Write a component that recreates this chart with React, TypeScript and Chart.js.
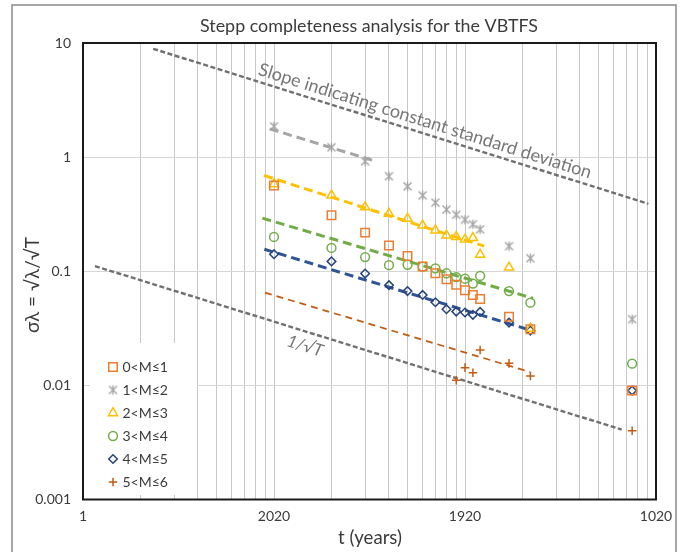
import React, { useEffect, useRef } from 'react';
import { Chart, registerables } from 'chart.js';
import { drawPoint } from 'chart.js/helpers';

Chart.register(...registerables);

const FONT = 'Lato, "Open Sans", sans-serif';

// Lengths T (years) of the completeness intervals
const T_YEARS = [10, 20, 30, 40, 50, 60, 70, 80, 90, 100, 110, 120, 170, 220, 750];

// σλ per magnitude class (null where the class has no estimate)
const SIGMA_M0_1 = [0.565, 0.309, 0.218, 0.168, 0.136, 0.110, 0.096, 0.085, 0.076, 0.068, 0.062, 0.057, 0.040, 0.031, 0.009];
const SIGMA_M1_2 = [1.86, 1.22, 0.92, 0.68, 0.554, 0.462, 0.399, 0.347, 0.313, 0.283, 0.258, 0.233, 0.166, 0.130, 0.038];
const SIGMA_M2_3 = [0.58, 0.462, 0.365, 0.32, 0.289, 0.252, 0.228, 0.206, 0.200, 0.190, 0.196, 0.140, 0.108, 0.0315, null];
const SIGMA_M3_4 = [0.200, 0.160, 0.133, 0.113, 0.114, 0.110, 0.106, 0.096, 0.089, 0.086, 0.078, 0.091, 0.067, 0.053, 0.0155];
const SIGMA_M4_5 = [0.141, 0.122, 0.0955, 0.0755, 0.067, 0.062, 0.0535, 0.0465, 0.0443, 0.0435, 0.0415, 0.044, 0.0355, 0.0302, 0.009];
const SIGMA_M5_6 = [null, null, null, null, null, null, null, null, 0.0111, 0.0143, 0.0129, 0.0204, 0.0156, 0.0121, 0.004];

const CLASS_LABELS = ['0<M≤1', '1<M≤2', '2<M≤3', '3<M≤4', '4<M≤5', '5<M≤6'];

// Fitted completeness slopes: [T, σλ] at both ends
const FIT_M1_2: [number, number][] = [[9.5, 1.77], [33, 0.935]];
const FIT_M2_3: [number, number][] = [[8.87, 0.69], [126, 0.166]];
const FIT_M3_4: [number, number][] = [[8.69, 0.292], [227, 0.058]];
const FIT_M4_5: [number, number][] = [[8.9, 0.156], [227, 0.030]];
const FIT_M5_6: [number, number][] = [[8.97, 0.065], [219, 0.0131]];

// Reference slopes
const REF_CONST_STD: [number, number][] = [[2.33, 8.9], [912, 0.39]];
const REF_INV_SQRT_T: [number, number][] = [[1.155, 0.111], [661, 0.0041]];

// Axis ticks
const X_TICKS = [1, 2, 3, 4, 5, 6, 7, 8, 9, 10, 20, 30, 40, 50, 60, 70, 80, 90, 100, 200, 300, 400, 500, 600, 700, 800, 900, 1000];
const X_LABELED = [1, 10, 100, 1000];
const X_TICK_LABELS = ['1', '2020', '1920', '1020'];
const Y_TICKS = [0.001, 0.01, 0.1, 1, 10];
const Y_TICK_LABELS = ['0.001', '0.01', '0.1', '1', '10'];

const TITLE = 'Stepp completeness analysis for the VBTFS';
const X_TITLE = 't (years)';
const Y_TITLE = 'σλ = √λ/√T';
const CONST_STD_TEXT = 'Slope indicating constant standard deviation';
const INV_SQRT_T_TEXT = '1/√T';

const C_ORANGE = '#ED7D31';
const C_GRAY = '#A5A5A5';
const C_YELLOW = '#FFC000';
const C_GREEN = '#70AD47';
const C_BLUE = '#264478';
const C_BLUE_LINE = '#2F5597';
const C_BROWN = '#C55A11';
const C_REF = '#707070';
const C_TEXT = '#3b3b3b';

function makeAsterisk(color: string): HTMLCanvasElement {
  const c = document.createElement('canvas');
  c.width = 13;
  c.height = 13;
  const g = c.getContext('2d')!;
  const m = 6.5;
  g.strokeStyle = color;
  g.lineWidth = 1.4;
  g.beginPath();
  g.moveTo(m - 4, m - 4); g.lineTo(m + 4, m + 4);
  g.moveTo(m + 4, m - 4); g.lineTo(m - 4, m + 4);
  g.moveTo(m, m - 4.8); g.lineTo(m, m + 4.8);
  g.stroke();
  return c;
}

const toPoints = (vals: (number | null)[]) =>
  T_YEARS.map((t, i) => (vals[i] == null ? null : { x: t, y: vals[i] as number })).filter(Boolean) as { x: number; y: number }[];

const markerSet = (label: string, vals: (number | null)[], color: string, style: any, radius: number) => ({
  label,
  data: toPoints(vals),
  showLine: false,
  pointStyle: style,
  pointRadius: radius,
  pointBorderColor: color,
  pointBackgroundColor: 'rgba(0,0,0,0)',
  pointBorderWidth: 1.5,
  borderColor: color,
  backgroundColor: 'rgba(0,0,0,0)',
});

const lineSet = (pts: [number, number][], color: string, width: number, dash: number[]) => ({
  label: '',
  data: pts.map(([x, y]) => ({ x, y })),
  showLine: true,
  pointRadius: 0,
  borderColor: color,
  borderWidth: width,
  borderDash: dash,
  backgroundColor: 'rgba(0,0,0,0)',
  fill: false,
  isFit: true,
});

function fitSize(ctx: CanvasRenderingContext2D, text: string, width: number, style = '') {
  ctx.font = `${style} 100px ${FONT}`;
  return (100 * width) / ctx.measureText(text).width;
}

const decorations = {
  id: 'decorations',
  beforeDraw(chart: any) {
    const { ctx } = chart;
    ctx.save();
    ctx.fillStyle = '#ffffff';
    ctx.fillRect(0, 0, chart.width, chart.height);
    ctx.strokeStyle = '#8a8a8a';
    ctx.lineWidth = 1.5;
    ctx.strokeRect(12, 5, 664, 580);
    ctx.restore();
  },
  afterDraw(chart: any) {
    const { ctx, chartArea: a, scales } = chart;
    const sx = scales.x;
    const sy = scales.y;
    ctx.save();

    // plot frame
    ctx.strokeStyle = '#1a1a1a';
    ctx.lineWidth = 2;
    ctx.strokeRect(a.left, a.top, a.right - a.left, a.bottom - a.top);

    // title and axis titles
    ctx.fillStyle = C_TEXT;
    ctx.textAlign = 'center';
    ctx.textBaseline = 'middle';
    let fs = fitSize(ctx, TITLE, 338);
    ctx.font = `${fs}px ${FONT}`;
    ctx.fillText(TITLE, 369, 26);

    fs = fitSize(ctx, X_TITLE, 64);
    ctx.font = `${fs}px ${FONT}`;
    ctx.fillText(X_TITLE, 370, 538);

    fs = fitSize(ctx, Y_TITLE, 96);
    ctx.save();
    ctx.translate(33, 285);
    ctx.rotate(-Math.PI / 2);
    ctx.font = `${fs}px ${FONT}`;
    ctx.fillText(Y_TITLE, 0, 0);
    ctx.restore();

    // annotation along the constant-std slope
    const p0x = sx.getPixelForValue(REF_CONST_STD[0][0]);
    const p0y = sy.getPixelForValue(REF_CONST_STD[0][1]);
    const p1x = sx.getPixelForValue(REF_CONST_STD[1][0]);
    const p1y = sy.getPixelForValue(REF_CONST_STD[1][1]);
    const ang = Math.atan2(p1y - p0y, p1x - p0x);
    ctx.fillStyle = '#767676';
    fs = fitSize(ctx, CONST_STD_TEXT, 348);
    ctx.save();
    ctx.translate(425, 121);
    ctx.rotate(ang);
    ctx.font = `${fs}px ${FONT}`;
    ctx.fillText(CONST_STD_TEXT, 0, 0);
    ctx.restore();

    const q0x = sx.getPixelForValue(REF_INV_SQRT_T[0][0]);
    const q0y = sy.getPixelForValue(REF_INV_SQRT_T[0][1]);
    const q1x = sx.getPixelForValue(REF_INV_SQRT_T[1][0]);
    const q1y = sy.getPixelForValue(REF_INV_SQRT_T[1][1]);
    const ang2 = Math.atan2(q1y - q0y, q1x - q0x);
    ctx.save();
    ctx.translate(305, 346);
    ctx.rotate(ang2);
    ctx.font = `italic 17px ${FONT}`;
    ctx.fillText(INV_SQRT_T_TEXT, 0, 0);
    ctx.restore();

    // inset legend
    ctx.fillStyle = '#ffffff';
    ctx.fillRect(90, 343, 107, 152);
    const markerSets = chart.data.datasets.filter((d: any) => !d.isFit);
    markerSets.forEach((d: any, i: number) => {
      const y = 367 + i * 23;
      ctx.strokeStyle = d.pointBorderColor;
      ctx.fillStyle = 'rgba(0,0,0,0)';
      ctx.lineWidth = 1.5;
      drawPoint(ctx, { pointStyle: d.pointStyle, rotation: 0, radius: d.pointRadius, borderWidth: 1.5 } as any, 113, y);
      ctx.fillStyle = C_TEXT;
      ctx.textAlign = 'left';
      ctx.textBaseline = 'middle';
      ctx.font = `14px ${FONT}`;
      ctx.fillText(d.label, 122.5, y + 0.5);
    });

    ctx.restore();
  },
};

export default function App() {
  const ref = useRef<HTMLCanvasElement>(null);

  useEffect(() => {
    const star = makeAsterisk(C_GRAY);
    const datasets: any[] = [
      markerSet(CLASS_LABELS[0], SIGMA_M0_1, C_ORANGE, 'rect', 6),
      markerSet(CLASS_LABELS[1], SIGMA_M1_2, C_GRAY, star, 4.5),
      markerSet(CLASS_LABELS[2], SIGMA_M2_3, C_YELLOW, 'triangle', 5.3),
      markerSet(CLASS_LABELS[3], SIGMA_M3_4, C_GREEN, 'circle', 4.4),
      markerSet(CLASS_LABELS[4], SIGMA_M4_5, C_BLUE, 'rectRot', 4.3),
      markerSet(CLASS_LABELS[5], SIGMA_M5_6, C_BROWN, 'cross', 4.3),
      lineSet(FIT_M1_2, C_GRAY, 3, [9, 5]),
      lineSet(FIT_M2_3, C_YELLOW, 3, [9, 5]),
      lineSet(FIT_M3_4, C_GREEN, 3, [9, 5]),
      lineSet(FIT_M4_5, C_BLUE_LINE, 3, [9, 5]),
      lineSet(FIT_M5_6, C_BROWN, 1.75, [7, 5]),
      lineSet(REF_CONST_STD, C_REF, 2.4, [5, 2.5]),
      lineSet(REF_INV_SQRT_T, C_REF, 2.4, [5, 2.5]),
    ];

    const chart = new Chart(ref.current!, {
      type: 'scatter',
      data: { datasets },
      plugins: [decorations],
      options: {
        responsive: false,
        animation: false,
        layout: { padding: { top: 43, right: 27, left: 0, bottom: 0 } },
        plugins: { legend: { display: false }, tooltip: { enabled: false }, title: { display: false } },
        scales: {
          x: {
            type: 'logarithmic',
            min: 1,
            max: 1000,
            afterBuildTicks: (s: any) => { s.ticks = X_TICKS.map((value) => ({ value })); },
            afterFit: (s: any) => { s.height = 52.5; },
            grid: { color: '#c8c8c8', lineWidth: 1, drawTicks: false },
            border: { display: false },
            ticks: {
              autoSkip: false,
              maxRotation: 0,
              minRotation: 0,
              padding: 9,
              color: C_TEXT,
              font: { family: FONT, size: 14 },
              callback: (v: any) => {
                const k = X_LABELED.indexOf(Number(v));
                return k >= 0 ? X_TICK_LABELS[k] : '';
              },
            },
          },
          y: {
            type: 'logarithmic',
            min: 0.001,
            max: 10,
            afterBuildTicks: (s: any) => { s.ticks = Y_TICKS.map((value) => ({ value })); },
            afterFit: (s: any) => { s.width = 83; },
            grid: { color: '#d6d6d6', lineWidth: 1, drawTicks: false },
            border: { display: false },
            ticks: {
              autoSkip: false,
              padding: 12,
              color: C_TEXT,
              font: { family: FONT, size: 14 },
              callback: (v: any) => {
                const k = Y_TICKS.findIndex((t) => Math.abs(t - Number(v)) < t * 1e-6);
                return k >= 0 ? Y_TICK_LABELS[k] : '';
              },
            },
          },
        },
      } as any,
    });
    return () => chart.destroy();
  }, []);

  return (
    <div style={{ position: 'absolute', left: 0, top: 0, width: 683, height: 552, background: '#fff' }}>
      <canvas ref={ref} width={683} height={552} style={{ display: 'block', width: 683, height: 552 }} />
    </div>
  );
}
